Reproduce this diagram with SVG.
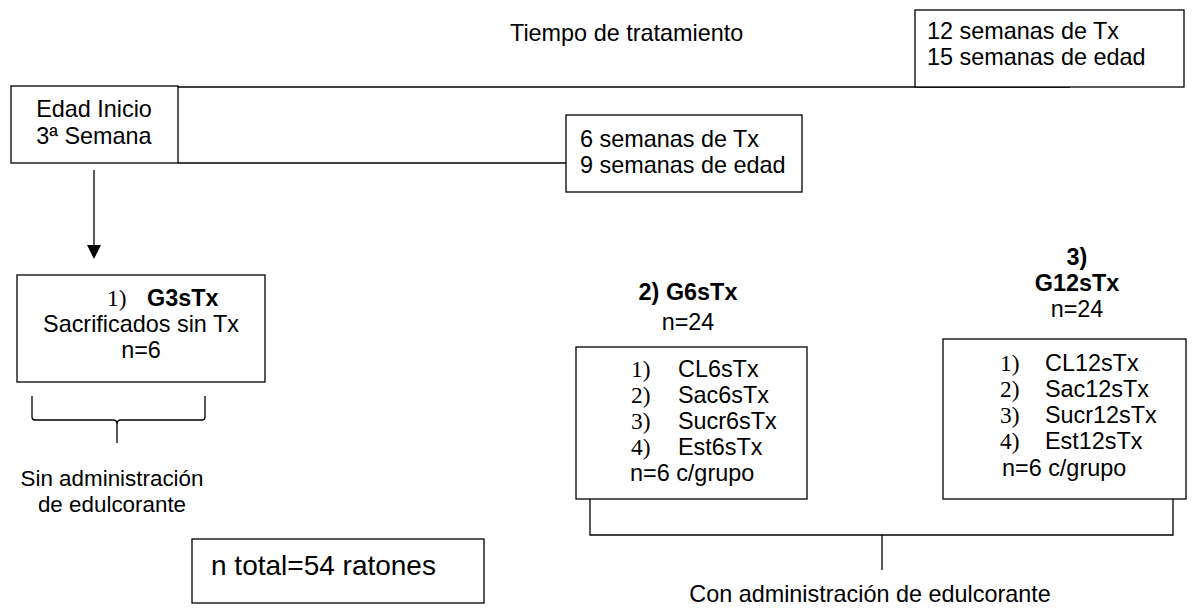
<svg xmlns="http://www.w3.org/2000/svg" width="1194" height="610" viewBox="0 0 1194 610">
<style>
text{font-family:"Liberation Sans",Arial,sans-serif;font-size:23.4px;fill:#000}
.b{font-weight:bold}
.s{font-family:"Liberation Serif","Times New Roman",serif}
.m{font-size:22.4px}
.big{font-size:28px}
.box{fill:#fff;stroke:#000;stroke-width:1.3}
.ln{fill:none;stroke:#000;stroke-width:1.3}
</style>
<g id="connectors">
<line class="ln" x1="178" y1="87" x2="1070" y2="87"/>
<line class="ln" x1="178" y1="163" x2="566" y2="163"/>
<line class="ln" x1="94" y1="170" x2="94" y2="246"/>
<path d="M87,245 L101,245 L94,259 Z" fill="#000"/>
<path class="ln" d="M32,396 L32,417 Q32,420 35,420 L113,420 Q117,420 117,424 L117,443 M117,424 Q117,420 121,420 L202,420 Q205,420 205,417 L205,396"/>
<path class="ln" d="M590,499 L590,535 L1173,535 L1173,499 M882,535 L882,570"/>
</g>
<g id="title"><text x="510" y="41">Tiempo de tratamiento</text></g>
<g id="box12">
<rect class="box" x="915" y="10" width="269" height="77"/>
<text x="927" y="39">12 semanas de Tx</text>
<text x="927" y="65">15 semanas de edad</text>
</g>
<g id="edad">
<rect class="box" x="11" y="86" width="167" height="77"/>
<text x="94" y="117" text-anchor="middle">Edad Inicio</text>
<text x="94" y="144" text-anchor="middle">3ª Semana</text>
</g>
<g id="box6">
<rect class="box" x="566" y="115" width="236" height="77"/>
<text x="580" y="147">6 semanas de Tx</text>
<text x="580" y="173">9 semanas de edad</text>
</g>
<g id="g3">
<rect class="box" x="17" y="275" width="248" height="107"/>
<text x="107" y="306"><tspan class="s">1)</tspan><tspan class="b" x="147">G3sTx</tspan></text>
<text x="141" y="332" text-anchor="middle">Sacrificados sin Tx</text>
<text x="141" y="358" text-anchor="middle">n=6</text>
</g>
<g id="sin"><text class="m" x="112" y="486" text-anchor="middle">Sin administración</text>
<text class="m" x="112" y="512" text-anchor="middle">de edulcorante</text></g>
<g id="total">
<rect class="box" x="192" y="539" width="292" height="64"/>
<text class="big" x="211" y="575">n total=54 ratones</text>
</g>
<g id="g6">
<text class="b" x="688" y="300" text-anchor="middle">2) G6sTx</text>
<text x="688" y="330" text-anchor="middle">n=24</text>
<rect class="box" x="576" y="347" width="231" height="152"/>
<text class="s" x="631" y="377">1)</text><text x="678" y="377">CL6sTx</text>
<text class="s" x="631" y="403">2)</text><text x="678" y="403">Sac6sTx</text>
<text class="s" x="631" y="429">3)</text><text x="678" y="429">Sucr6sTx</text>
<text class="s" x="631" y="455">4)</text><text x="678" y="455">Est6sTx</text>
<text x="630" y="481">n=6 c/grupo</text>
</g>
<g id="g12">
<text class="b" x="1077" y="265" text-anchor="middle">3)</text>
<text class="b" x="1077" y="291" text-anchor="middle">G12sTx</text>
<text x="1077" y="317" text-anchor="middle">n=24</text>
<rect class="box" x="943" y="339" width="243" height="160"/>
<text class="s" x="1000" y="371">1)</text><text x="1045" y="371">CL12sTx</text>
<text class="s" x="1000" y="397">2)</text><text x="1045" y="397">Sac12sTx</text>
<text class="s" x="1000" y="423">3)</text><text x="1045" y="423">Sucr12sTx</text>
<text class="s" x="1000" y="449">4)</text><text x="1045" y="449">Est12sTx</text>
<text x="1002" y="476">n=6 c/grupo</text>
</g>
<g id="con"><text x="870" y="602" text-anchor="middle">Con administración de edulcorante</text></g>
</svg>
